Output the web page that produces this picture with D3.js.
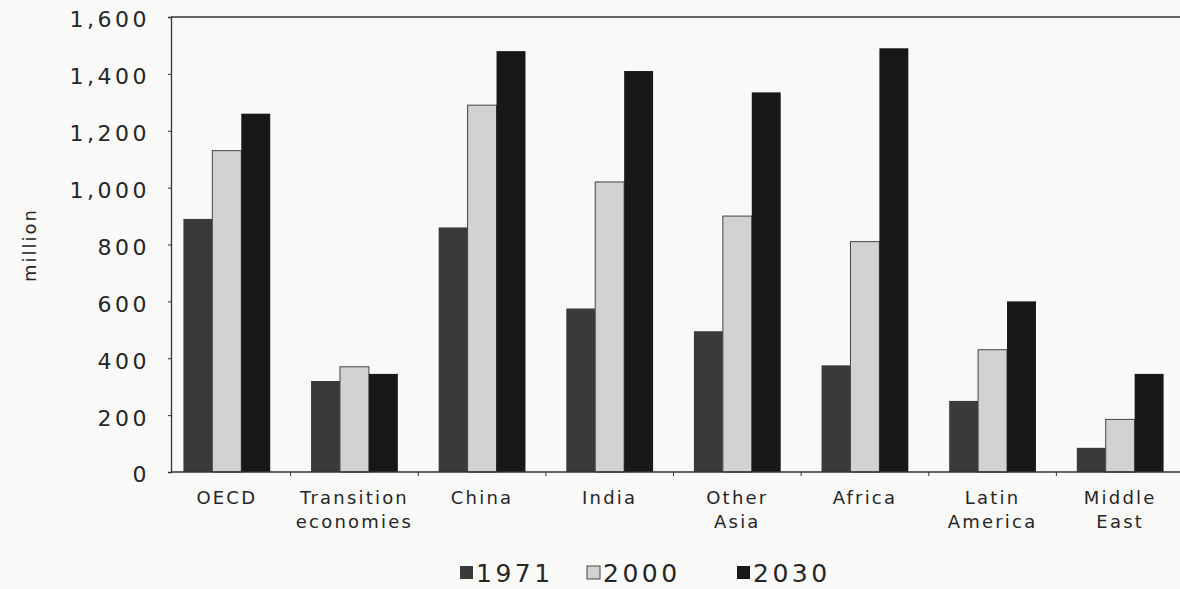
<!DOCTYPE html>
<html><head><meta charset="utf-8">
<script src="https://cdn.jsdelivr.net/npm/d3@7"></script>
<style>
body{margin:0;background:#f9f9f8;}
svg{display:block;}
text{font-family:"DejaVu Sans",sans-serif;fill:#262626;}
</style></head>
<body><svg id="c" width="1180" height="589"></svg>
<script>
const categories = [["OECD"],["Transition","economies"],["China"],["India"],["Other","Asia"],["Africa"],["Latin","America"],["Middle","East"]];
const seriesNames = ["1971","2000","2030"];
const v1971 = [890, 320, 860, 575, 495, 375, 250, 85];
const v2000 = [1130, 370, 1290, 1020, 900, 810, 430, 185];
const v2030 = [1260, 345, 1480, 1410, 1335, 1490, 600, 345];
const yTicks = [0,200,400,600,800,1000,1200,1400,1600];
const colors = ["#3a3a3a","#d2d2d2","#181818"];

const svg = d3.select("#c");
const pLeft = 171, pRight = 1180, pTop = 17, pBottom = 472;
const catKeys = categories.map(c=>c.join(" "));
const x = d3.scaleBand().domain(catKeys).range([163,1184]).paddingInner(0.32).paddingOuter(0.16);
const xs = d3.scaleBand().domain(seriesNames).range([0,x.bandwidth()]).padding(0);
const y = d3.scaleLinear().domain([0,1600]).range([pBottom,pTop]);
const data = [v1971,v2000,v2030];

// top frame line
svg.append("line").attr("x1",pLeft).attr("x2",pRight).attr("y1",y(1600)).attr("y2",y(1600)).attr("stroke","#333").attr("stroke-width",1.3);

// bars
catKeys.forEach((k,i)=>{
  seriesNames.forEach((s,j)=>{
    const val = data[j][i];
    svg.append("rect").attr("x",x(k)+xs(s)).attr("y",y(val)).attr("width",xs.bandwidth()).attr("height",pBottom-y(val))
      .attr("fill",colors[j]).attr("stroke",j===1?"#444":"none").attr("stroke-width",1);
  });
});

// y axis
const ya = svg.append("g").attr("transform",`translate(${pLeft},0)`).call(d3.axisLeft(y).tickValues(yTicks).tickSize(3).tickPadding(18).tickFormat(d3.format(",")));
ya.select(".domain").attr("stroke","#333").attr("stroke-width",1.3);
ya.selectAll(".tick line").attr("stroke","#333");
ya.selectAll("text").attr("font-size",22).attr("letter-spacing","3.5px").attr("dy","0.45em").attr("fill","#262626");

// x axis line
svg.append("line").attr("x1",pLeft).attr("x2",pRight).attr("y1",pBottom).attr("y2",pBottom).attr("stroke","#333").attr("stroke-width",1.3);
// x ticks at group boundaries
const step = x.step();
const bounds = catKeys.slice(1).map(k=>x(k) - (step - x.bandwidth())/2);
svg.selectAll(".xt").data(bounds).enter().append("line").attr("x1",d=>d).attr("x2",d=>d).attr("y1",pBottom).attr("y2",pBottom+4).attr("stroke","#333");

// category labels
categories.forEach((c,i)=>{
  const cx = x(catKeys[i])+x.bandwidth()/2;
  const t = svg.append("text").attr("x",cx).attr("y",504).attr("text-anchor","middle").attr("font-size",18).attr("letter-spacing","2.2px");
  c.forEach((line,li)=>t.append("tspan").attr("x",cx).attr("dy",li?24:0).text(line));
});

// y label
svg.append("text").attr("transform","translate(36,245) rotate(-90)").attr("text-anchor","middle").attr("font-size",18).attr("letter-spacing","2px").text("million");

// legend
const legX = [460,587,737];
seriesNames.forEach((s,j)=>{
  svg.append("rect").attr("x",legX[j]).attr("y",566).attr("width",13).attr("height",13).attr("fill",colors[j]).attr("stroke",j===1?"#444":"none");
  svg.append("text").attr("x",legX[j]+16).attr("y",582).attr("font-size",25).attr("letter-spacing","3.5px").text(s);
});
</script></body></html>
